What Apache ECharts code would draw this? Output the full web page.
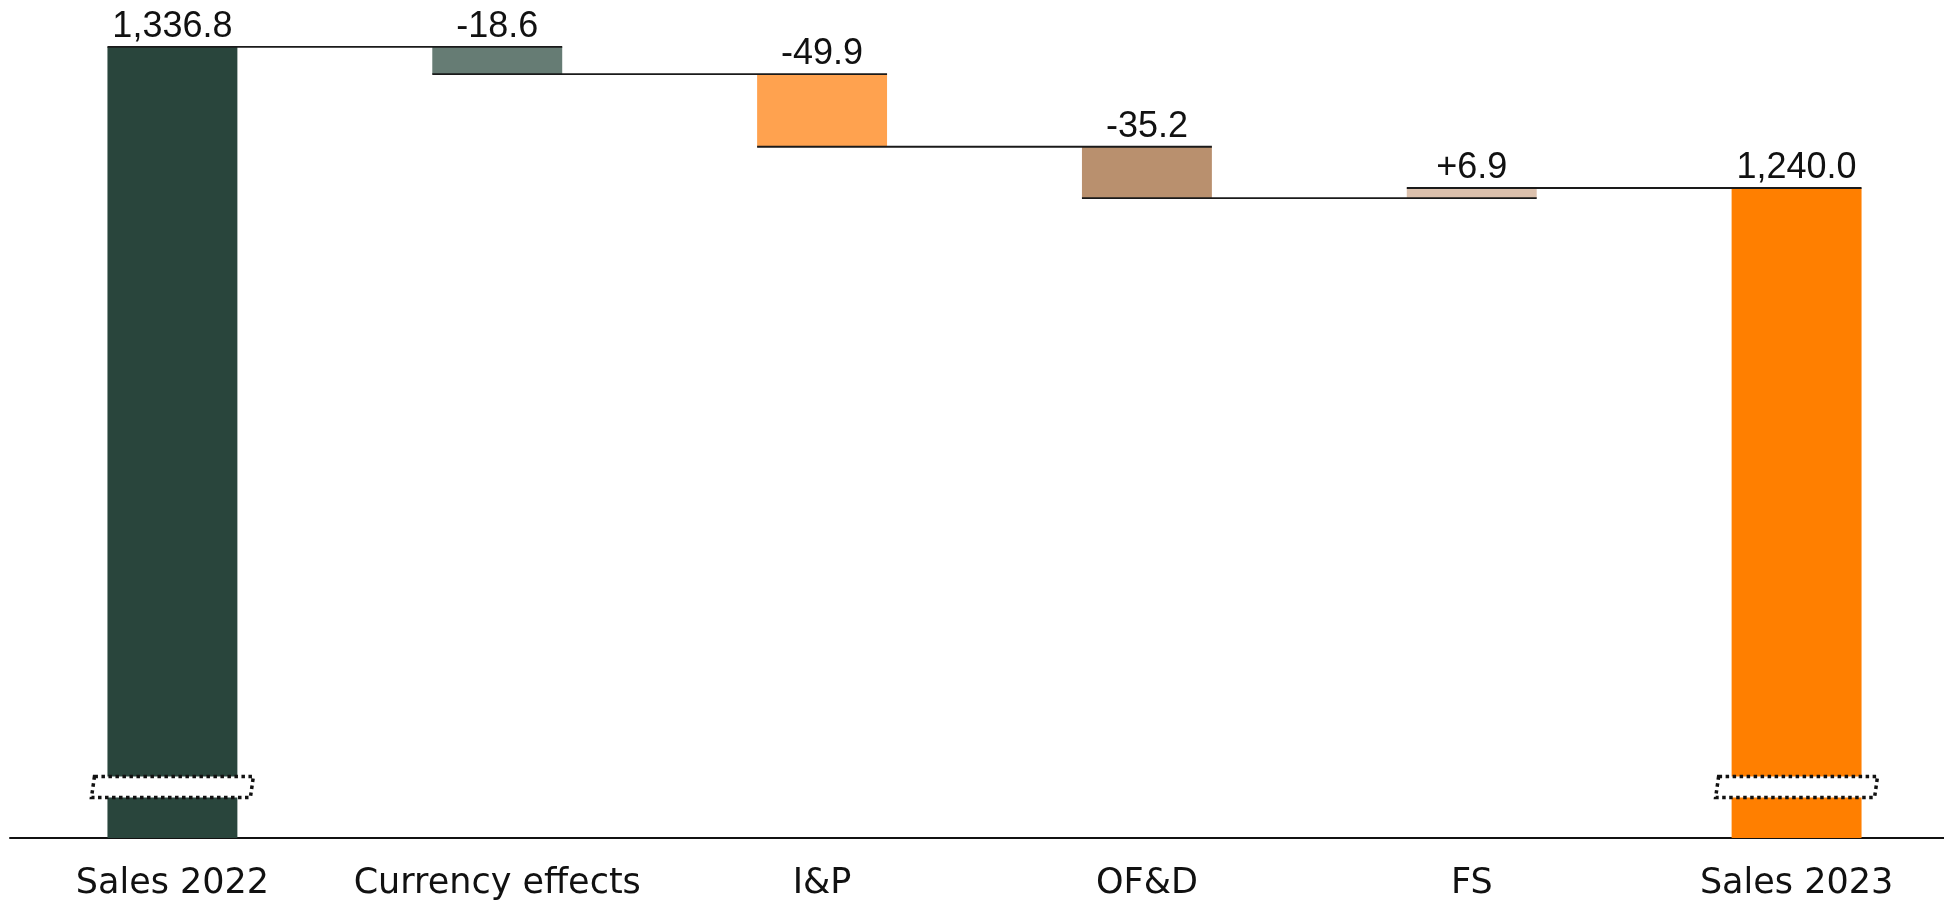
<!DOCTYPE html>
<html>
<head>
<meta charset="utf-8">
<script src="https://cdn.jsdelivr.net/npm/echarts@6/dist/echarts.min.js"></script>
<style>
html,body{margin:0;padding:0;background:#fff;overflow:hidden;width:1944px;height:903px;}
#chart{width:1960px;height:903px;}
</style>
</head>
<body>
<div id="chart"></div>
<script>
// ---- data ----
const categories = ['Sales 2022', 'Currency effects', 'I&P', 'OF&D', 'FS', 'Sales 2023'];
const values = [1336.8, -18.6, -49.9, -35.2, 6.9, 1240.0];
const isTotal = [true, false, false, false, false, true];
const barColors = ['#29453c', '#667c74', '#ffa24f', '#b9906e', '#dcc1ad', '#ff7f00'];
const breakBars = [0, 5];
const yMin = 794;
const yMax = 1369;

// ---- derived waterfall layout ----
const bases = [];
const heights = [];
const levels = []; // level after each bar
let running = 0;
values.forEach((v, i) => {
  if (isTotal[i]) {
    bases.push(0);
    heights.push(v);
    running = v;
  } else {
    const next = running + v;
    bases.push(Math.min(running, next));
    heights.push(Math.abs(v));
    running = next;
  }
  levels.push(running);
});

function fmt(v, total) {
  const s = Math.abs(v).toLocaleString('en-US', {minimumFractionDigits: 1, maximumFractionDigits: 1});
  if (total) return s;
  return (v < 0 ? '-' : '+') + s;
}

const BAR_RATIO = 0.4;
const chart = echarts.init(document.getElementById('chart'), null, {renderer: 'canvas'});

const option = {
  animation: false,
  backgroundColor: '#ffffff',
  grid: {left: 10, right: 1, top: 0, bottom: 65, containLabel: false},
  xAxis: {
    type: 'category',
    data: categories,
    axisLine: {show: true, lineStyle: {color: '#111', width: 2}},
    axisTick: {show: false},
    axisLabel: {
      color: '#111',
      fontFamily: 'DejaVu Sans',
      fontSize: 35,
      margin: 28,
      interval: 0
    }
  },
  yAxis: {
    type: 'value',
    min: yMin,
    max: yMax,
    show: false,
    splitLine: {show: false}
  },
  series: [
    {
      type: 'bar',
      name: 'base',
      stack: 'wf',
      data: bases,
      barWidth: (BAR_RATIO * 100) + '%',
      itemStyle: {color: 'rgba(0,0,0,0)'},
      silent: true,
      z: 1
    },
    {
      type: 'bar',
      name: 'value',
      stack: 'wf',
      data: heights.map((h, i) => ({value: h, itemStyle: {color: barColors[i]}})),
      barWidth: (BAR_RATIO * 100) + '%',
      z: 2,
      label: {
        show: true,
        position: 'top',
        distance: 2,
        color: '#111',
        fontFamily: 'Liberation Sans',
        fontSize: 36,
        formatter: p => fmt(values[p.dataIndex], isTotal[p.dataIndex])
      }
    },
    {
      type: 'custom',
      name: 'connectors',
      z: 5,
      silent: true,
      data: levels.slice(0, -1).map((lv, i) => [i, lv]),
      renderItem: function (params, api) {
        const i = api.value(0);
        const lv = api.value(1);
        const band = api.size([1, 0])[0];
        const half = band * BAR_RATIO / 2;
        const p1 = api.coord([i, lv]);
        const p2 = api.coord([i + 1, lv]);
        return {
          type: 'line',
          shape: {x1: p1[0] - half, y1: p1[1], x2: p2[0] + half, y2: p2[1]},
          style: {stroke: '#1a1a1a', lineWidth: 1.8}
        };
      }
    },
    {
      type: 'custom',
      name: 'breaks',
      z: 6,
      silent: true,
      data: breakBars.map(i => [i, yMin]),
      renderItem: function (params, api) {
        const p = api.coord([api.value(0), api.value(1)]);
        const band = api.size([1, 0])[0];
        const hw = band * BAR_RATIO / 2 + 16;
        const cy = p[1] - 51;
        const hh = 10.5;
        const sk = 3;
        return {
          type: 'polygon',
          shape: {
            points: [
              [p[0] - hw + sk, cy - hh],
              [p[0] + hw, cy - hh],
              [p[0] + hw - sk, cy + hh],
              [p[0] - hw, cy + hh]
            ]
          },
          style: {fill: '#ffffff', stroke: '#111', lineWidth: 3.5, lineDash: [3.5, 3.5]}
        };
      }
    }
  ]
};
chart.setOption(option);
</script>
</body>
</html>
